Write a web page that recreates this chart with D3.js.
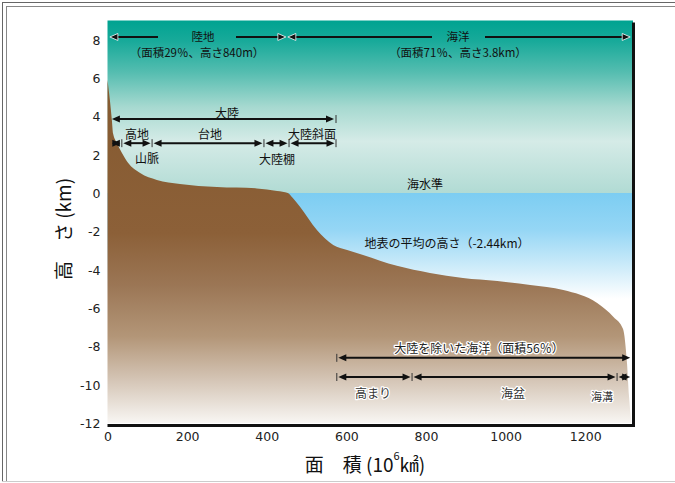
<!DOCTYPE html>
<html><head><meta charset="utf-8">
<script src="https://cdn.jsdelivr.net/npm/d3@7"></script>
<style>
html,body{margin:0;padding:0;background:#fff;}
svg{display:block;}
</style></head>
<body>
<script>
// ---- data ----
const areas   = [0, 6, 11, 14, 24, 36, 52, 82, 124, 182, 275, 375, 426, 453, 465, 484, 526, 567, 602, 642, 727, 810, 893, 979, 1062, 1145, 1230, 1271, 1295, 1305, 1310, 1316];
const heights = [5.9, 4.85, 3.8, 3.1, 2.6, 2.1, 1.56, 1.04, 0.68, 0.47, 0.31, 0.24, 0.1, 0, -0.25, -0.73, -1.93, -2.71, -2.97, -3.23, -3.8, -4.17, -4.43, -4.59, -4.8, -5.06, -5.74, -6.47, -7.1, -8.9, -10.6, -12];
const xTicks = [0, 200, 400, 600, 800, 1000, 1200];
const yTicks = [8, 6, 4, 2, 0, -2, -4, -6, -8, -10, -12];
const landSpan = [6, 448];
const oceanSpan = [453, 1313];
const continentSpan = [11, 574];
const continentParts = [11, 36, 112, 393, 456, 574];
const oceanFloorSpan = [576, 1313];
const oceanParts = [576, 765, 1280, 1313];

const W = 675, H = 483;
const JP = "'Noto Sans CJK JP','Noto Sans',sans-serif";
const svg = d3.select("body").append("svg").attr("width", W).attr("height", H);

const x = d3.scaleLinear().domain([0, 1320]).range([107.5, 633]);
const y = d3.scaleLinear().domain([-12, 9]).range([423, 20.5]);

// frame
const frame = svg.append("g").attr("fill", "none");
frame.append("line").attr("x1", 2).attr("x2", W).attr("y1", 2.5).attr("y2", 2.5).attr("stroke", "#666");
frame.append("line").attr("x1", 6).attr("x2", W).attr("y1", 6.5).attr("y2", 6.5).attr("stroke", "#888");
frame.append("line").attr("x1", 2.5).attr("x2", 2.5).attr("y1", 2).attr("y2", 482).attr("stroke", "#666");
frame.append("line").attr("x1", 6.5).attr("x2", 6.5).attr("y1", 6).attr("y2", 482).attr("stroke", "#888");
frame.append("line").attr("x1", 2).attr("x2", W).attr("y1", 481.5).attr("y2", 481.5).attr("stroke", "#ccc");

// gradients
const defs = svg.append("defs");
function grad(id, y1, y2, stops) {
  const g = defs.append("linearGradient").attr("id", id).attr("gradientUnits", "userSpaceOnUse")
    .attr("x1", 0).attr("x2", 0).attr("y1", y1).attr("y2", y2);
  stops.forEach(s => g.append("stop").attr("offset", s[0]).attr("stop-color", s[1]));
}
grad("sky", y(9), y(0), [[0, "#00a391"], [0.12, "#18aa9a"], [0.3, "#55bdb0"], [0.5, "#a6d9d0"], [0.7, "#d5ebe7"], [1, "#b1dbd4"]]);
grad("sea", y(0), y(-12), [[0, "#7ccdf2"], [0.16, "#95d6f5"], [0.34, "#d4eefa"], [0.46, "#ffffff"], [1, "#ffffff"]]);
grad("land", y(6), y(-12), [[0, "#855a30"], [0.45, "#8c6038"], [0.6, "#9b7655"], [0.75, "#b39678"], [0.87, "#d3c3b3"], [1, "#f8f6f3"]]);

const x0 = x(0), x1 = x(1320);
svg.append("rect").attr("x", x0).attr("y", y(9)).attr("width", x1 - x0).attr("height", y(0) - y(9)).attr("fill", "url(#sky)");
svg.append("rect").attr("x", x0).attr("y", y(0)).attr("width", x1 - x0).attr("height", y(-12) - y(0)).attr("fill", "url(#sea)");

const pts = areas.map((a, i) => [a, heights[i]]);
const area = d3.area().x(d => x(d[0])).y0(y(-12)).y1(d => y(d[1])).curve(d3.curveMonotoneX);
svg.append("path").datum(pts).attr("d", area).attr("fill", "url(#land)");

// shadow edges
svg.append("rect").attr("x", x1 - 1).attr("y", y(9) + 2).attr("width", 3).attr("height", y(-12) - y(9) + 2).attr("fill", "#111");
svg.append("rect").attr("x", x0).attr("y", y(-12) + 1).attr("width", x1 - x0 + 2).attr("height", 3).attr("fill", "#111");

// axes
const fmt = d => String(d);
const xAxis = d3.axisBottom(x).tickValues(xTicks).tickFormat(fmt).tickSize(0).tickPadding(0);
const gx = svg.append("g").attr("transform", `translate(0,${y(-12) + 9})`).call(xAxis);
gx.select(".domain").remove();
gx.selectAll("text").attr("font-family", "'DejaVu Sans',sans-serif").attr("font-size", 12.5).attr("fill", "#222").attr("dy", "0.75em");

const yAxis = d3.axisLeft(y).tickValues(yTicks).tickFormat(fmt).tickSize(0).tickPadding(0);
const gy = svg.append("g").attr("transform", `translate(${x0 - 7},0)`).call(yAxis);
gy.select(".domain").remove();
gy.selectAll("text").attr("font-family", "'DejaVu Sans',sans-serif").attr("font-size", 12.5).attr("fill", "#222").attr("dy", "0.35em");

// axis titles
svg.append("text").attr("transform", `translate(62,229) rotate(-90)`).attr("text-anchor", "middle")
  .attr("dominant-baseline", "central").attr("font-family", JP).attr("font-size", 19).attr("fill", "#111")
  .text("高　さ (km)");
const xt = svg.append("text").attr("x", 365).attr("y", 463).attr("text-anchor", "middle")
  .attr("dominant-baseline", "central").attr("font-family", JP).attr("font-size", 19).attr("fill", "#111");
xt.append("tspan").text("面　積 (10");
xt.append("tspan").attr("font-size", 11).attr("dy", -8).text("6");
xt.append("tspan").attr("dy", 8).text("㎢)");

// arrows
const ann = svg.append("g");
function head(px, py, dir, outline) {
  const L = 8, hw = 3.5;
  ann.append("path").attr("d", `M${px},${py}L${px - dir * L},${py - hw}L${px - dir * L},${py + hw}Z`)
    .attr("fill", "#111").attr("stroke", outline ? "#fff" : "none").attr("stroke-width", outline ? 0.8 : 0);
}
function seg(a, b, py, ha, hb, outline) {
  ann.append("line").attr("x1", a + (ha ? 4 : 0)).attr("x2", b - (hb ? 4 : 0)).attr("y1", py).attr("y2", py)
    .attr("stroke", "#111").attr("stroke-width", 2);
  if (ha) head(a, py, -1, outline);
  if (hb) head(b, py, 1, outline);
}
function tick(px, py) {
  ann.append("line").attr("x1", px).attr("x2", px).attr("y1", py - 4).attr("y2", py + 4).attr("stroke", "#333").attr("stroke-width", 1);
}
function label(tx, ty, t, opts = {}) {
  const el = ann.append("text").attr("x", tx).attr("y", ty).attr("text-anchor", "middle").attr("dominant-baseline", "central")
    .attr("font-family", JP).attr("font-size", opts.size || 12).attr("fill", opts.fill || "#111").text(t);
  if (opts.halo) el.attr("stroke", "#fff").attr("stroke-width", 2.5).attr("paint-order", "stroke").attr("stroke-linejoin", "round");
  return el;
}

// 陸地 / 海洋
const yTop = y(8.14);
seg(x(landSpan[0]), 158, yTop, true, false, true);
seg(236, x(landSpan[1]), yTop, false, true, true);
label(203, 36, "陸地", { size: 11.5 });
label(197, 51.5, "（面積29％、高さ840m）", { size: 11.5 });
seg(x(oceanSpan[0]), 432, yTop, true, false, true);
seg(485, x(oceanSpan[1]), yTop, false, true, true);
label(458, 36, "海洋", { size: 11.5 });
label(458, 51.5, "（面積71％、高さ3.8km）", { size: 11.5 });

// 大陸
const yC = y(3.86);
seg(x(continentSpan[0]), x(continentSpan[1]) - 2, yC, true, true);
tick(x(continentSpan[1]), yC);
label(227, 112, "大陸");
const yP = y(2.6);
for (let i = 0; i < continentParts.length - 1; i++) {
  const a = x(continentParts[i]) + (i === 0 ? 0 : 1.5), b = x(continentParts[i + 1]) - 1.5;
  seg(a, b, yP, true, true);
  if (i > 0) tick(x(continentParts[i]), yP);
}
tick(x(continentParts[continentParts.length - 1]), yP);
label(137, 133, "高地");
label(210, 133, "台地");
label(312, 133, "大陸斜面");
label(147, 157, "山脈");
label(277, 158, "大陸棚");

label(425, 183, "海水準");
label(447, 242, "地表の平均の高さ（-2.44km）");

// ocean floor
const yO = y(-8.6);
tick(x(oceanFloorSpan[0]), yO);
seg(x(oceanFloorSpan[0]) + 1.5, x(oceanFloorSpan[1]), yO, true, true);
label(479, 347, "大陸を除いた海洋（面積56％）", { halo: true, fill: "#222" });
const yQ = y(-9.6);
for (let i = 0; i < oceanParts.length - 1; i++) {
  const a = x(oceanParts[i]) + 1.5, b = x(oceanParts[i + 1]) - (i === oceanParts.length - 2 ? 0 : 1.5);
  seg(a, b, yQ, true, true);
  tick(x(oceanParts[i]), yQ);
}
label(373, 392, "高まり", { halo: true, fill: "#333" });
label(513, 392, "海盆", { halo: true, fill: "#333" });
label(602, 396, "海溝", { halo: true, fill: "#333", size: 11 });
</script>
</body></html>
